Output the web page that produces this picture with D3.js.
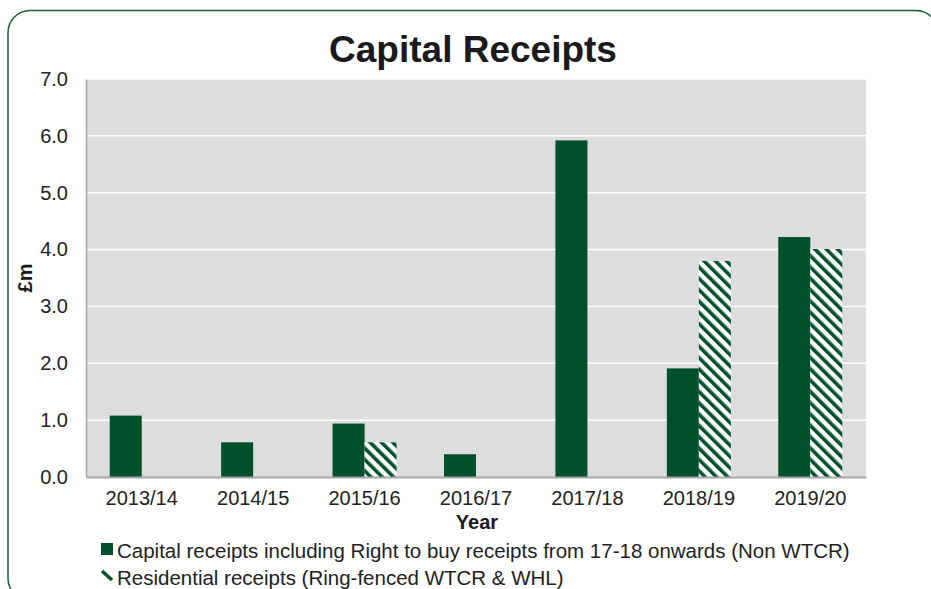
<!DOCTYPE html>
<html>
<head>
<meta charset="utf-8">
<script src="https://cdn.jsdelivr.net/npm/d3@7"></script>
<style>
  html, body { margin: 0; padding: 0; background: #ffffff; }
  svg { display: block; font-family: "Liberation Sans", Arial, sans-serif; }
</style>
</head>
<body>
<svg id="chart" width="931" height="589"></svg>
<script>
// Financial years on the x axis
const years = ["2013/14", "2014/15", "2015/16", "2016/17", "2017/18", "2018/19", "2019/20"];
// £m, capital receipts incl. right to buy (Non WTCR)
const capitalReceipts = [1.08, 0.61, 0.94, 0.40, 5.92, 1.91, 4.22];
// £m, residential receipts (ring-fenced WTCR & WHL)
const residentialReceipts = [0, 0, 0.61, 0, 0, 3.80, 4.01];
const seriesNames = [
  "Capital receipts including Right to buy receipts from 17-18 onwards (Non WTCR)",
  "Residential receipts (Ring-fenced WTCR & WHL)"
];
const yTicks = [0, 1, 2, 3, 4, 5, 6, 7];

const green = "#00502a";
const font = "Liberation Sans, Arial, sans-serif";
const svg = d3.select("#chart");

// hatch fill for the residential series
const defs = svg.append("defs");
const pat = defs.append("pattern")
  .attr("id", "hatch")
  .attr("patternUnits", "userSpaceOnUse")
  .attr("width", 8).attr("height", 8)
  .attr("patternTransform", "rotate(-45)");
pat.append("rect").attr("width", 8).attr("height", 8).attr("fill", "#ffffff");
pat.append("rect").attr("x", 0).attr("width", 3.6).attr("height", 8).attr("fill", green);

// rounded frame
svg.append("rect")
  .attr("x", 8).attr("y", 10.5).attr("width", 930).attr("height", 590)
  .attr("rx", 22).attr("ry", 22)
  .attr("fill", "none").attr("stroke", "#1b5e37").attr("stroke-width", 1.5);

const plot = { left: 86, right: 866, top: 79, bottom: 477 };

const x = d3.scaleBand().domain(years).range([plot.left, plot.right]).paddingInner(0).paddingOuter(0);
const y = d3.scaleLinear().domain([0, 7]).range([plot.bottom, plot.top]);
const groupW = 64;
const xs = d3.scaleBand().domain([0, 1]).range([0, groupW]).padding(0);

// plot background
svg.append("rect")
  .attr("x", plot.left).attr("y", plot.top)
  .attr("width", plot.right - plot.left).attr("height", plot.bottom - plot.top)
  .attr("fill", "#dcdddf");

// gridlines
svg.append("g")
  .selectAll("line")
  .data(yTicks.filter(d => d > 0))
  .join("line")
  .attr("x1", plot.left).attr("x2", plot.right)
  .attr("y1", d => y(d)).attr("y2", d => y(d))
  .attr("stroke", "#ffffff").attr("stroke-width", 1.5);

// bars
const groups = svg.append("g")
  .selectAll("g")
  .data(years)
  .join("g")
  .attr("transform", d => `translate(${x(d) + x.bandwidth() / 2 - groupW / 2},0)`);

groups.append("rect")
  .attr("x", xs(0)).attr("width", xs.bandwidth())
  .attr("y", (d, i) => y(capitalReceipts[i]))
  .attr("height", (d, i) => y(0) - y(capitalReceipts[i]))
  .attr("fill", green);

groups.filter((d, i) => residentialReceipts[i] > 0)
  .append("rect")
  .attr("x", xs(1)).attr("width", xs.bandwidth())
  .attr("y", d => y(residentialReceipts[years.indexOf(d)]))
  .attr("height", d => y(0) - y(residentialReceipts[years.indexOf(d)]))
  .attr("fill", "url(#hatch)");

// axes
const yAxis = svg.append("g")
  .attr("transform", `translate(${plot.left},0)`)
  .call(d3.axisLeft(y).tickValues(yTicks).tickFormat(d3.format(".1f")).tickSize(0).tickPadding(18));
yAxis.select(".domain").attr("stroke", "#a6a6a6").attr("stroke-width", 1.5);
yAxis.selectAll("text").attr("font-size", 20).attr("fill", "#222").attr("font-family", font);

const xAxis = svg.append("g")
  .attr("transform", `translate(0,${plot.bottom})`)
  .call(d3.axisBottom(x).tickSize(0).tickPadding(14));
xAxis.select(".domain").attr("stroke", "#a6a6a6").attr("stroke-width", 2);
xAxis.selectAll("text").attr("font-size", 20).attr("fill", "#222").attr("font-family", font);

// titles
svg.append("text")
  .attr("x", 473).attr("y", 62)
  .attr("text-anchor", "middle")
  .attr("font-size", 37).attr("font-weight", "bold").attr("fill", "#1a1a1a")
  .text("Capital Receipts");

svg.append("text")
  .attr("x", 477).attr("y", 529)
  .attr("text-anchor", "middle")
  .attr("font-size", 20).attr("font-weight", "bold").attr("fill", "#1a1a1a")
  .text("Year");

svg.append("text")
  .attr("transform", "translate(32,278) rotate(-90)")
  .attr("text-anchor", "middle")
  .attr("font-size", 20).attr("font-weight", "bold").attr("fill", "#1a1a1a")
  .text("£m");

// legend
const legend = svg.append("g");
legend.append("rect")
  .attr("x", 101).attr("y", 543).attr("width", 12).attr("height", 12)
  .attr("fill", green);
legend.append("line")
  .attr("x1", 102).attr("y1", 571).attr("x2", 112).attr("y2", 580)
  .attr("stroke", green).attr("stroke-width", 3.5);
legend.selectAll("text")
  .data(seriesNames)
  .join("text")
  .attr("x", 117)
  .attr("y", (d, i) => 558 + i * 27)
  .attr("font-size", 20.5).attr("fill", "#222")
  .text(d => d);
</script>
</body>
</html>
